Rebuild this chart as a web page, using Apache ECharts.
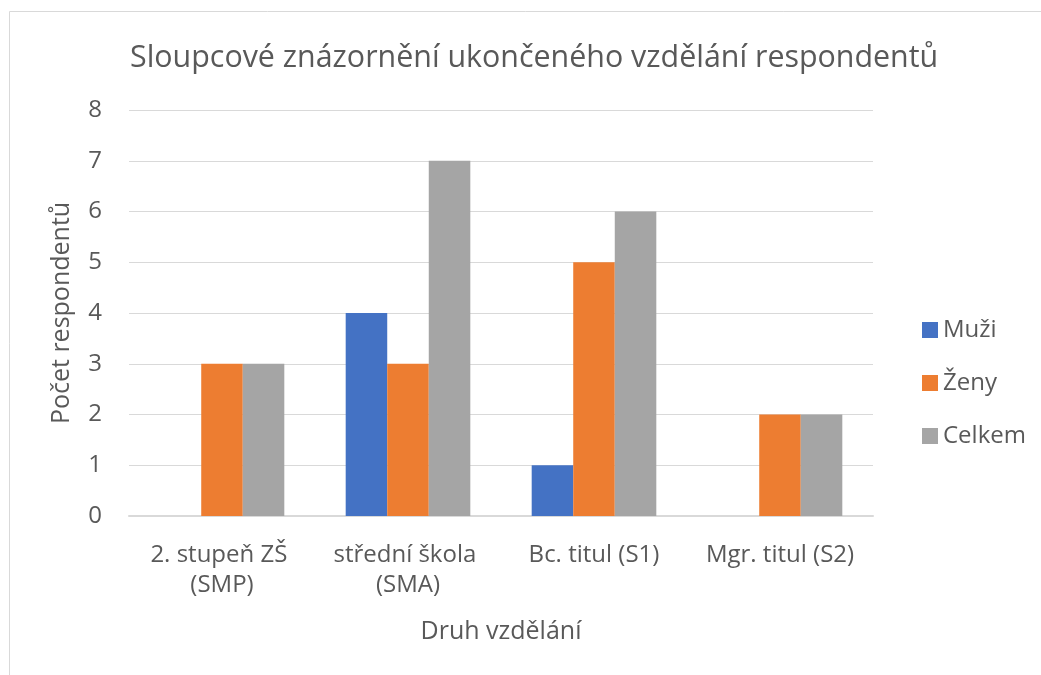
<!DOCTYPE html>
<html>
<head>
<meta charset="utf-8">
<style>
  html, body { margin: 0; padding: 0; background: #fff; }
  #main { width: 1041px; height: 675px; }
</style>
<script src="https://cdn.jsdelivr.net/npm/echarts@6/dist/echarts.min.js"></script>
</head>
<body>
<div id="main"></div>
<script>
// data
var categories = ['2. stupeň ZŠ (SMP)', 'střední škola (SMA)', 'Bc. titul (S1)', 'Mgr. titul (S2)'];
var muzi = [0, 4, 1, 0];
var zeny = [3, 3, 5, 2];
var celkem = [3, 7, 6, 2];

var font = '"Open Sans", "Noto Sans", sans-serif';
var textColor = '#595959';

var chart = echarts.init(document.getElementById('main'));
chart.setOption({
  animation: false,
  color: ['#4472C4', '#ED7D31', '#A5A5A5'],
  title: {
    text: 'Sloupcové znázornění ukončeného vzdělání respondentů',
    left: 125,
    top: 38,
    textStyle: { fontFamily: font, fontSize: 30.4, fontWeight: 'normal', color: textColor }
  },
  legend: {
    orient: 'vertical',
    left: 917,
    top: 313,
    itemWidth: 16,
    itemHeight: 16,
    itemGap: 29,
    icon: 'rect',
    textStyle: { fontFamily: font, fontSize: 24, color: textColor }
  },
  grid: { left: 129, right: 168, top: 110, bottom: 159 },
  xAxis: {
    type: 'category',
    data: categories,
    name: 'Druh vzdělání',
    nameLocation: 'middle',
    nameGap: 103,
    nameTextStyle: { fontFamily: font, fontSize: 25, color: textColor },
    axisLine: { lineStyle: { color: '#D9D9D9', width: 2 } },
    axisTick: { show: false },
    axisLabel: {
      fontFamily: font, fontSize: 24, color: textColor,
      margin: 24, lineHeight: 30, width: 200, overflow: 'break', interval: 0
    }
  },
  yAxis: {
    type: 'value',
    min: 0,
    max: 8,
    interval: 1,
    name: 'Počet respondentů',
    nameLocation: 'middle',
    nameGap: 55,
    nameTextStyle: { fontFamily: font, fontSize: 25, color: textColor },
    axisLine: { show: false },
    axisTick: { show: false },
    axisLabel: { fontFamily: font, fontSize: 24, color: textColor, margin: 27 },
    splitLine: { lineStyle: { color: '#D9D9D9', width: 1 } }
  },
  series: [
    { name: 'Muži', type: 'bar', data: muzi, barGap: '0%', barCategoryGap: '33%' },
    { name: 'Ženy', type: 'bar', data: zeny },
    { name: 'Celkem', type: 'bar', data: celkem }
  ],
  graphic: [{
    type: 'rect',
    shape: { x: 9.5, y: 11.5, width: 1100, height: 700 },
    style: { fill: null, stroke: '#D9D9D9', lineWidth: 1 },
    silent: true
  }]
});
</script>
</body>
</html>
